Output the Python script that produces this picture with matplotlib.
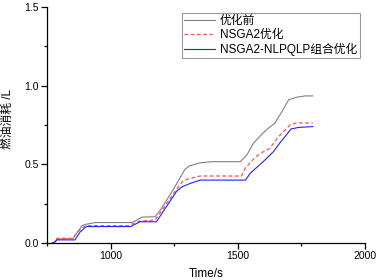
import matplotlib
matplotlib.use("Agg")
import matplotlib.pyplot as plt
from matplotlib.ticker import MultipleLocator, FormatStrFormatter

plt.rcParams['font.family'] = ['Liberation Sans', 'Noto Sans CJK SC', 'DejaVu Sans']

labels = ['优化前', 'NSGA2优化', 'NSGA2-NLPQLP组合优化']

t_gray = [770, 776, 789, 852, 870, 888, 900, 939, 1085, 1124, 1175, 1200, 1250, 1293,
          1310, 1352, 1400, 1510, 1536, 1560, 1576, 1600, 1620, 1645, 1670, 1700, 1730,
          1765, 1795]
v_gray = [0, 0, 0.025, 0.028, 0.07, 0.11, 0.118, 0.13, 0.13, 0.165, 0.167, 0.22, 0.35,
          0.47, 0.49, 0.51, 0.517, 0.517, 0.56, 0.63, 0.66, 0.70, 0.73, 0.76, 0.826,
          0.91, 0.926, 0.935, 0.935]

t_red = [770, 776, 789, 852, 870, 900, 1070, 1115, 1175, 1250, 1282, 1300, 1352, 1515,
         1530, 1570, 1600, 1625, 1660, 1705, 1730, 1795]
v_red = [0, 0, 0.03, 0.03, 0.07, 0.11, 0.11, 0.14, 0.146, 0.32, 0.39, 0.405, 0.426,
         0.426, 0.477, 0.547, 0.58, 0.60, 0.675, 0.75, 0.763, 0.763]

t_blue = [770, 778, 789, 860, 880, 905, 1080, 1115, 1180, 1260, 1282, 1315, 1352, 1530,
          1550, 1600, 1640, 1665, 1710, 1740, 1795]
v_blue = [0, 0, 0.02, 0.02, 0.07, 0.105, 0.105, 0.135, 0.135, 0.33, 0.358, 0.38, 0.40,
          0.40, 0.445, 0.517, 0.58, 0.635, 0.725, 0.735, 0.74]

fig = plt.figure(figsize=(3.77, 2.8), dpi=100)
ax = fig.add_axes([0.1247, 0.132, 0.968 - 0.1247, 0.975 - 0.132])

ax.plot(t_gray, v_gray, color='#808080', lw=0.8, label=labels[0])
ax.plot(t_red, v_red, color='#ff5050', lw=0.9, ls=(0, (3, 2)), label=labels[1])
ax.plot(t_blue, v_blue, color='#2020ff', lw=0.8, label=labels[2])

ax.set_xlim(750, 2000)
ax.set_ylim(0, 1.5)
ax.xaxis.set_major_locator(MultipleLocator(500))
ax.xaxis.set_minor_locator(MultipleLocator(250))
ax.yaxis.set_major_locator(MultipleLocator(0.5))
ax.yaxis.set_minor_locator(MultipleLocator(0.25))
ax.yaxis.set_major_formatter(FormatStrFormatter('%.1f'))

for s in ['top', 'right']:
    ax.spines[s].set_visible(False)
for s in ['left', 'bottom']:
    ax.spines[s].set_linewidth(0.9)
ax.tick_params(which='major', direction='out', length=4, width=0.9, labelsize=7.5, pad=2)
ax.tick_params(which='minor', direction='out', length=2.5, width=0.9)

ax.set_xlabel('Time/s', fontsize=8.5)
ax.xaxis.set_label_coords(0.5, -0.105)
ax.set_ylabel('燃油消耗 /L', fontsize=8.5)
ax.yaxis.set_label_coords(-0.103, 0.525)

leg = ax.legend(loc='upper left', bbox_to_anchor=(0.425, 0.975), fontsize=8.5,
                frameon=True, fancybox=False, edgecolor='#808080', handlelength=2.6,
                borderpad=0.2, labelspacing=0.15, handletextpad=0.4, borderaxespad=0)
leg.get_frame().set_linewidth(0.8)

fig.savefig('out.png', dpi=100)
